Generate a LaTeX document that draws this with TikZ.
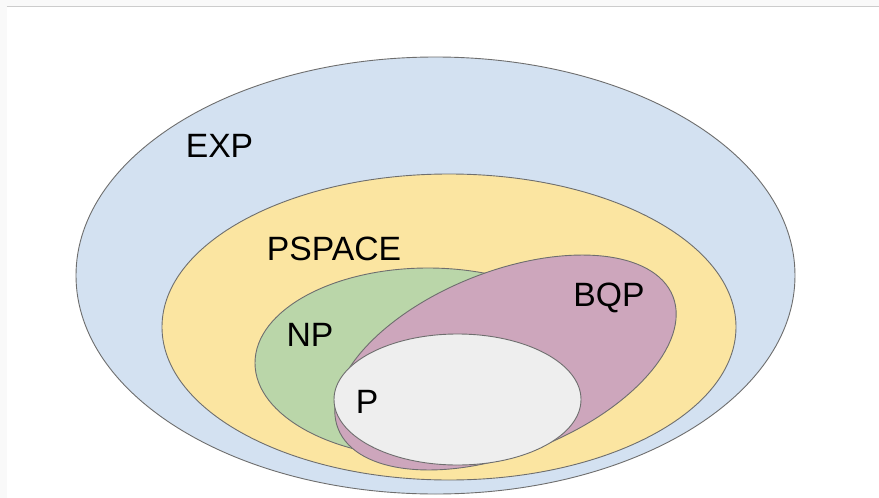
\documentclass[tikz,border=0pt]{standalone}
\usepackage{fontspec}
\setmainfont{Liberation Sans}
\usetikzlibrary{shapes.geometric}
\definecolor{expc}{HTML}{D3E1F1}
\definecolor{psc}{HTML}{FBE5A1}
\definecolor{npc}{HTML}{BAD6A9}
\definecolor{bqpc}{HTML}{CDA6BC}
\definecolor{pc}{HTML}{EEEEEE}
\definecolor{edgec}{HTML}{6E6E6E}
\definecolor{framec}{HTML}{F9F9F9}
\definecolor{linec}{HTML}{CCCCCC}
\begin{document}
\begin{tikzpicture}[x=1pt,y=-1pt,
  setshape/.style={ellipse, draw=edgec, line width=0.9pt, inner sep=0pt, outer sep=0pt},
  lab/.style={anchor=base, inner sep=0pt, font=\fontsize{33.7}{40}\selectfont}]
\useasboundingbox (0,0) rectangle (879,498);
\fill[white] (0,0) rectangle (879,498);
\fill[framec] (0,0) rectangle (879,5.5);
\fill[framec] (0,0) rectangle (6.5,498);
\draw[linec, line width=1.5pt] (6.5,6.3) -- (879,6.3);
\node[setshape, fill=expc, minimum width=719pt, minimum height=437pt] (exp) at (435.5,275.5) {};
\node[setshape, fill=psc, minimum width=574pt, minimum height=306pt] (pspace) at (449,327) {};
\node[setshape, fill=npc, minimum width=346pt, minimum height=190pt] (np) at (428,363) {};
\node[setshape, fill=bqpc, minimum width=360pt, minimum height=182pt, rotate=21.6] (bqp) at (505.5,362.5) {};
\node[setshape, fill=pc, minimum width=247pt, minimum height=131pt] (p) at (457.5,399.5) {};
\node[lab] (explab) at (219.5,157) {EXP};
\node[lab] (pslab) at (334,260) {PSPACE};
\node[lab] (nplab) at (310,346) {NP};
\node[lab] (plab) at (367,413) {P};
\node[lab] (bqplab) at (609,306) {BQP};
\end{tikzpicture}
\end{document}
